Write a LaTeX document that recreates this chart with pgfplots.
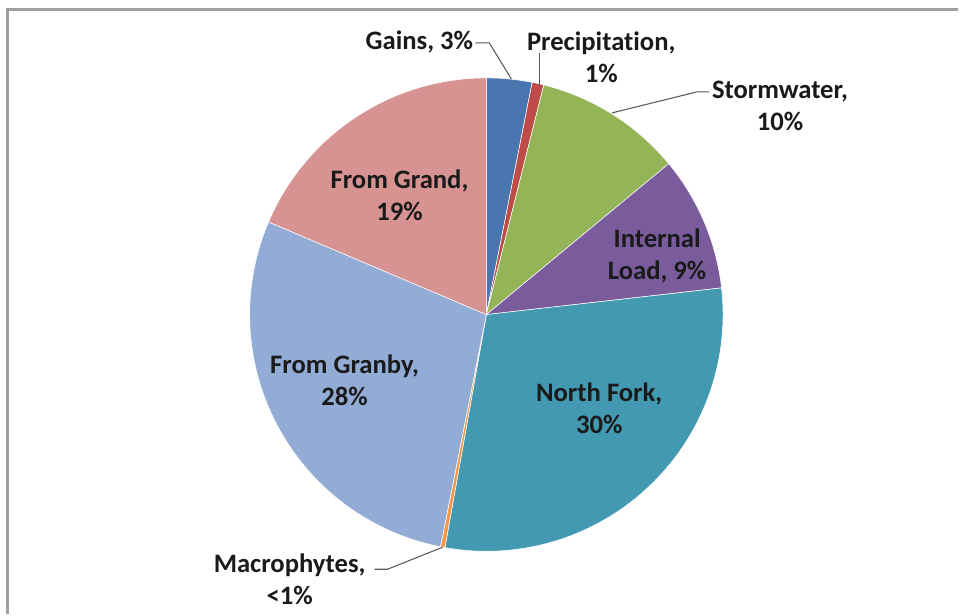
\documentclass[border=0pt]{standalone}
\usepackage{pgfplots}
\pgfplotsset{compat=1.18}
\usepackage{fontspec}
\setmainfont{Carlito}[Ligatures=NoCommon]
\definecolor{cGains}{HTML}{4A76B0}
\definecolor{cPrec}{HTML}{BE4B48}
\definecolor{cStorm}{HTML}{93B457}
\definecolor{cInt}{HTML}{7A5C9D}
\definecolor{cNF}{HTML}{4399B1}
\definecolor{cMac}{HTML}{F79646}
\definecolor{cGranby}{HTML}{93ACD5}
\definecolor{cGrand}{HTML}{D69391}
\definecolor{txt}{HTML}{1A1A1A}
% shares (percent), clockwise from 12 o'clock
\def\vGains{3.1}\def\vPrec{0.8}\def\vStorm{10.1}\def\vInt{9.2}
\def\vNF{29.6}\def\vMac{0.3}\def\vGranby{28.3}\def\vGrand{18.6}
\pgfmathsetmacro\cA{0}
\pgfmathsetmacro\cB{\cA+\vGains}
\pgfmathsetmacro\cC{\cB+\vPrec}
\pgfmathsetmacro\cD{\cC+\vStorm}
\pgfmathsetmacro\cE{\cD+\vInt}
\pgfmathsetmacro\cF{\cE+\vNF}
\pgfmathsetmacro\cG{\cF+\vMac}
\pgfmathsetmacro\cH{\cG+\vGranby}
\pgfmathsetmacro\cI{\cH+\vGrand}
\foreach \n in {A,B,C,D,E,F,G,H,I}{\pgfmathsetmacro\tmp{90-3.6*\csname c\n\endcsname}\expandafter\xdef\csname a\n\endcsname{\tmp}}
\newcommand\slice[3]{\addplot[fill=#1, draw=white, line width=0.4pt, domain=#3:#2, samples=80, variable=\t] ({487+237*cos(\t)},{300+237*sin(\t)}) -- (axis cs:487,300) -- cycle;}
\begin{document}
\begin{tikzpicture}
\begin{axis}[scale only axis, width=719.25pt, height=461.25pt,
  xmin=0, xmax=959, ymin=0, ymax=615, hide axis, clip=false]
\path (axis cs:0,0) rectangle (axis cs:959,615);
\slice{cGains}{\aA}{\aB}
\slice{cPrec}{\aB}{\aC}
\slice{cStorm}{\aC}{\aD}
\slice{cInt}{\aD}{\aE}
\slice{cNF}{\aE}{\aF}
\slice{cMac}{\aF}{\aG}
\slice{cGranby}{\aG}{\aH}
\slice{cGrand}{\aH}{\aI}
\draw[color=gray!75, line width=1.9pt] (axis cs:7.5,0) -- (axis cs:7.5,605.5) -- (axis cs:959,605.5);
\draw[color=black!65, line width=0.8pt] (axis cs:476,572) -- (axis cs:490,572) -- (axis cs:512,536);
\draw[color=black!65, line width=0.8pt] (axis cs:540,562) -- (axis cs:540,529);
\draw[color=black!65, line width=0.8pt] (axis cs:710,523) -- (axis cs:698,523) -- (axis cs:613,502);
\draw[color=black!65, line width=0.8pt] (axis cs:375,45) -- (axis cs:388,45) -- (axis cs:443,67);
\tikzset{lab/.style={font=\fontsize{20pt}{24pt}\selectfont\bfseries, text=txt, align=center, inner sep=0pt}}
\node[lab, anchor=east] at (axis cs:474,573) {Gains, 3\%};
\node[lab] at (axis cs:602,557.5) {Precipitation,\\1\%};
\node[lab] at (axis cs:781,509) {Stormwater,\\10\%};
\node[lab] at (axis cs:658,359) {Internal\\Load, 9\%};
\node[lab] at (axis cs:600,206) {North Fork,\\30\%};
\node[lab] at (axis cs:345,234) {From Granby,\\28\%};
\node[lab] at (axis cs:400,419) {From Grand,\\19\%};
\node[lab] at (axis cs:290,35) {Macrophytes,\\<1\%};
\end{axis}
\end{tikzpicture}
\end{document}
